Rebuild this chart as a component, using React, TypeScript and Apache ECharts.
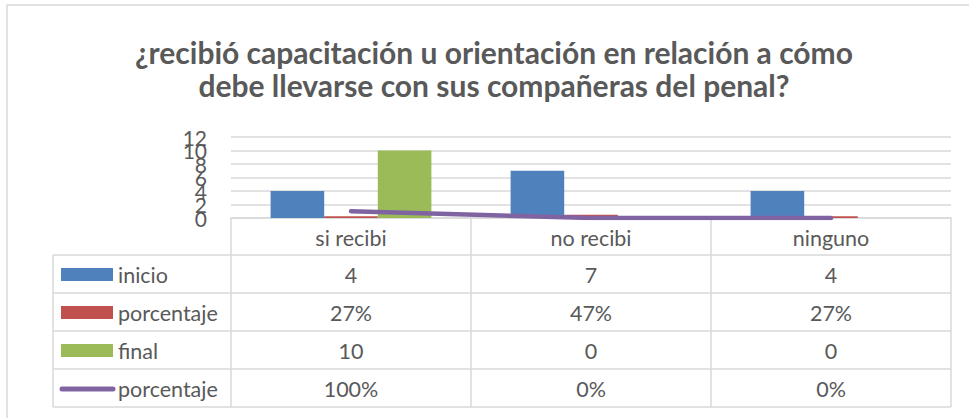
import React, { useEffect, useRef } from "react";
import * as echarts from "echarts";

const categories = ["si recibi", "no recibi", "ninguno"];
const inicio = [4, 7, 4];
const porcentajeInicio = [0.27, 0.47, 0.27];
const finalVals = [10, 0, 0];
const porcentajeFinal = [1, 0, 0];
const yTickLabels = [0, 2, 4, 6, 8, 10, 12];
const titleText = "¿recibió capacitación u orientación en relación a cómo\ndebe llevarse con sus compañeras del penal?";

const seriesNames = ["inicio", "porcentaje", "final", "porcentaje"];
const colors = ["#4f81bd", "#c0504d", "#9bbb59", "#8064a2"];

const pct = (v: number) => Math.round(v * 100) + "%";

export default function App() {
  const ref = useRef<HTMLDivElement>(null);
  useEffect(() => {
    if (!ref.current) return;
    const chart = echarts.init(ref.current, undefined, { renderer: "svg" });
    const gridLeft = 231;
    const gridRight = 951;
    const gridTop = 137;
    const gridBottom = 218;
    const colW = (gridRight - gridLeft) / categories.length;
    const rowH = 38;
    const tableLeft = 53;
    const headerBottom = 255;
    const tableBottom = headerBottom + rowH * 4;
    const lineColor = "#d9d9d9";
    const textColor = "#595959";
    const font = "Lato, 'Open Sans', sans-serif";
    const fs = 21.5;

    const rows: string[][] = [
      inicio.map(String),
      porcentajeInicio.map(pct),
      finalVals.map(String),
      porcentajeFinal.map(pct),
    ];

    const g: any[] = [];
    g.push({ type: "rect", shape: { x: 7, y: 5, width: 1000, height: 500 }, style: { fill: "none", stroke: lineColor, lineWidth: 1.5 }, silent: true });
    g.push({
      type: "text",
      x: 494,
      y: 35,
      style: { text: titleText, textAlign: "center", textVerticalAlign: "top", fill: textColor, font: `bold 30px ${font}`, lineHeight: 33 },
    });
    for (let i = 0; i <= categories.length; i++) {
      const x = gridLeft + i * colW;
      g.push({ type: "line", shape: { x1: x, y1: gridBottom, x2: x, y2: tableBottom }, style: { stroke: lineColor, lineWidth: 1.5 } });
    }
    g.push({ type: "line", shape: { x1: tableLeft, y1: headerBottom, x2: tableLeft, y2: tableBottom }, style: { stroke: lineColor, lineWidth: 1.5 } });
    for (let r = 0; r <= 4; r++) {
      const y = headerBottom + r * rowH;
      g.push({ type: "line", shape: { x1: tableLeft, y1: y, x2: gridRight, y2: y }, style: { stroke: lineColor, lineWidth: 1.5 } });
    }
    categories.forEach((c, i) => {
      g.push({ type: "text", x: gridLeft + (i + 0.5) * colW, y: (gridBottom + headerBottom) / 2 + 1, style: { text: c, textAlign: "center", textVerticalAlign: "middle", fill: textColor, font: `${fs}px ${font}` } });
    });
    rows.forEach((vals, r) => {
      const cy = headerBottom + (r + 0.5) * rowH + 1;
      if (r === 3) {
        g.push({ type: "line", shape: { x1: 62, y1: cy, x2: 113, y2: cy }, style: { stroke: colors[r], lineWidth: 5, lineCap: "round" } });
      } else {
        g.push({ type: "rect", shape: { x: 61, y: cy - 7, width: 52, height: 13 }, style: { fill: colors[r] } });
      }
      g.push({ type: "text", x: 118, y: cy, style: { text: seriesNames[r], textAlign: "left", textVerticalAlign: "middle", fill: textColor, font: `${fs}px ${font}` } });
      vals.forEach((v, i) => {
        g.push({ type: "text", x: gridLeft + (i + 0.5) * colW, y: cy, style: { text: v, textAlign: "center", textVerticalAlign: "middle", fill: textColor, font: `${fs}px ${font}` } });
      });
    });

    chart.setOption({
      animation: false,
      backgroundColor: "#ffffff",
      grid: { left: gridLeft, top: gridTop, width: gridRight - gridLeft, height: gridBottom - gridTop, containLabel: false },
      xAxis: {
        type: "category",
        data: categories,
        axisLine: { show: true, lineStyle: { color: lineColor, width: 1.5 } },
        axisTick: { show: false },
        axisLabel: { show: false },
      },
      yAxis: {
        type: "value",
        min: yTickLabels[0],
        max: yTickLabels[yTickLabels.length - 1],
        interval: yTickLabels[1] - yTickLabels[0],
        axisLine: { show: false },
        axisTick: { show: false },
        splitLine: { lineStyle: { color: lineColor, width: 1.5 } },
        axisLabel: { show: false },
      },
      series: [
        { name: seriesNames[0], type: "bar", data: inicio, itemStyle: { color: colors[0] }, barGap: "0%", barCategoryGap: "33%" },
        { name: seriesNames[1], type: "bar", data: porcentajeInicio, itemStyle: { color: colors[1] }, barGap: "0%", barCategoryGap: "33%" },
        { name: seriesNames[2], type: "bar", data: finalVals, itemStyle: { color: colors[2] }, barGap: "0%", barCategoryGap: "33%" },
        { name: seriesNames[3], type: "line", data: porcentajeFinal, showSymbol: false, symbol: "none", lineStyle: { color: colors[3], width: 4.5, cap: "round" }, z: 5 },
      ],
      graphic: g,
    });

    // y-axis tick labels, positioned through the axis scale
    const yLabels = yTickLabels.map((v) => {
      const py = chart.convertToPixel({ yAxisIndex: 0 }, v) as number;
      return {
        type: "text",
        x: gridLeft - 24,
        y: py,
        style: { text: String(v), textAlign: "right", textVerticalAlign: "middle", fill: textColor, font: `21px ${font}` },
      };
    });
    chart.setOption({ graphic: [...g, ...yLabels] });
    return () => chart.dispose();
  }, []);
  return <div ref={ref} style={{ position: "absolute", left: 0, top: 0, width: 969, height: 418 }} />;
}
